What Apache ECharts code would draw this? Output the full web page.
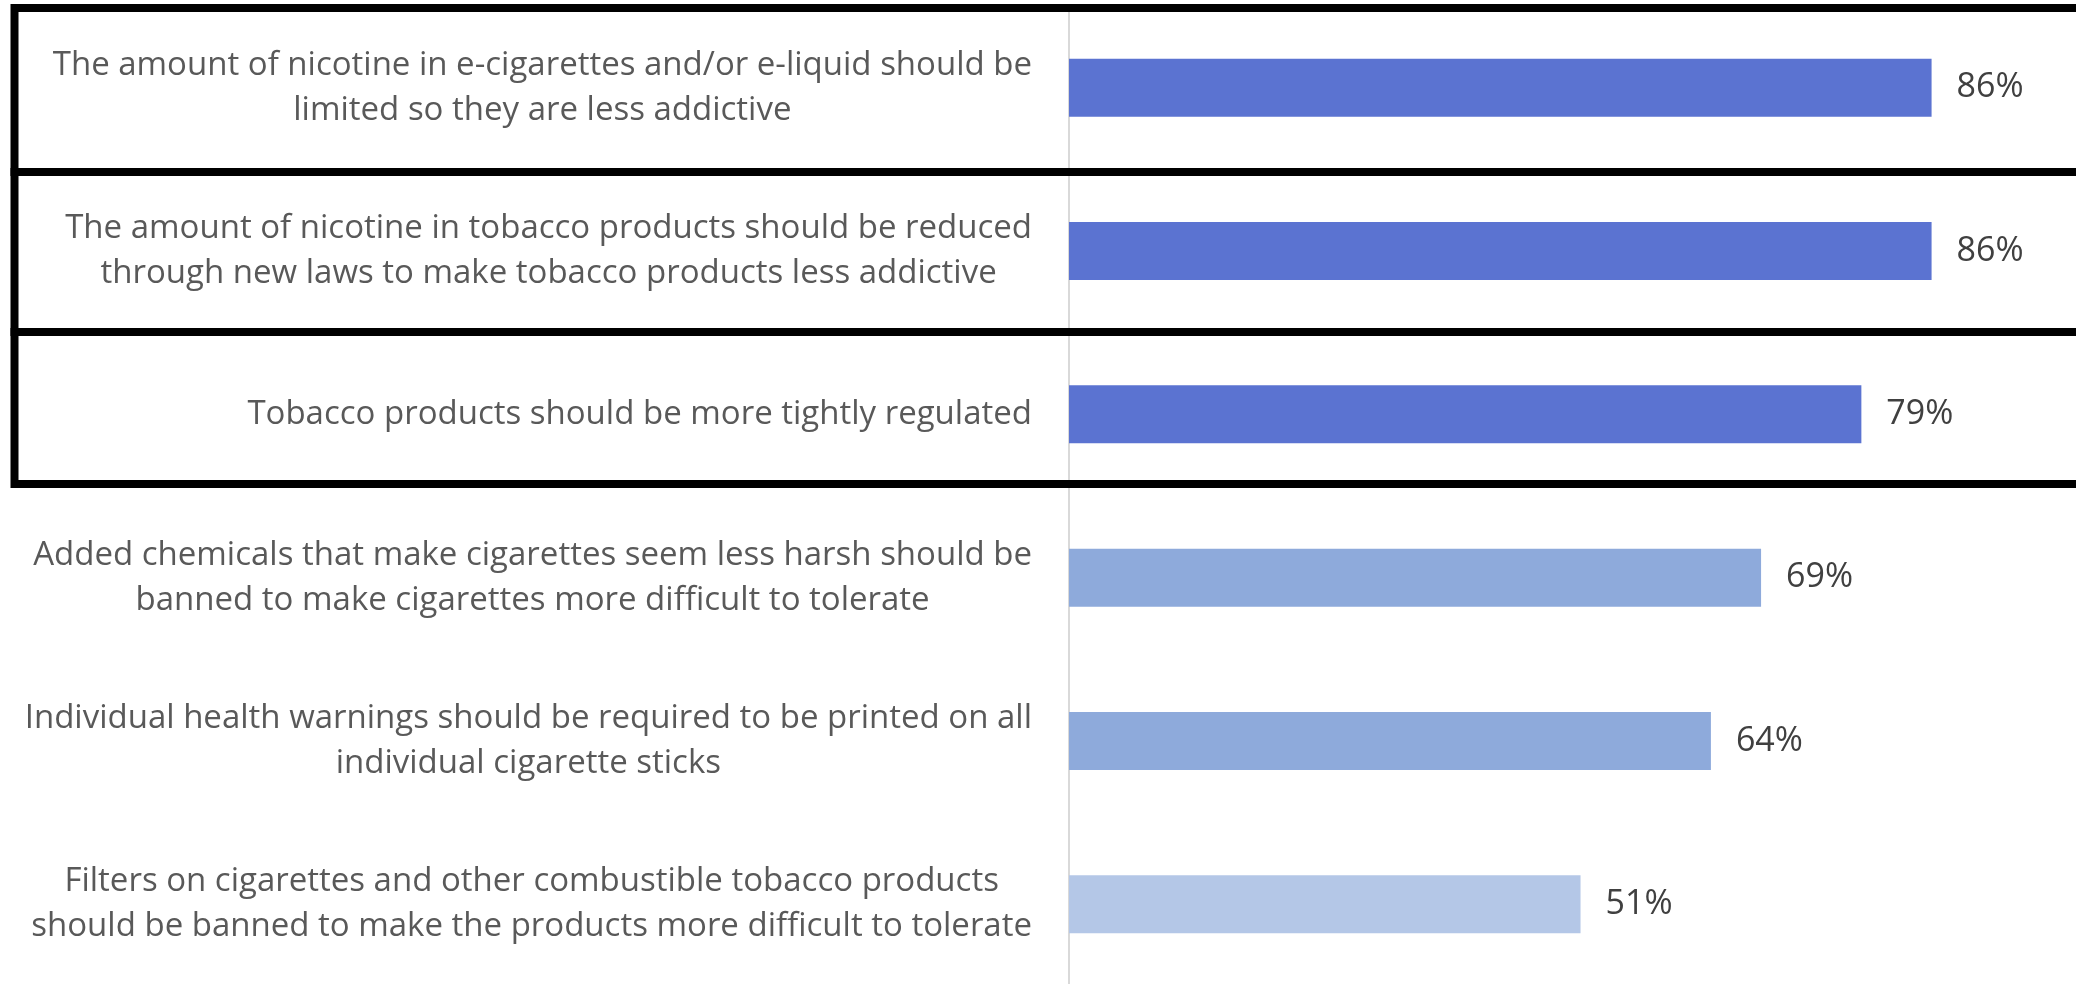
<!DOCTYPE html>
<html><head><meta charset="utf-8">
<script src="https://cdn.jsdelivr.net/npm/echarts@6/dist/echarts.min.js"></script>
<style>html,body{margin:0;padding:0;background:#fff}#c{width:2076px;height:984px}</style>
</head><body><div id="c"></div>
<script>
const categories = [
  "The amount of nicotine in e-cigarettes and/or e-liquid should be\nlimited so they are less addictive",
  "The amount of nicotine in tobacco products should be reduced\nthrough new laws to make tobacco products less addictive",
  "Tobacco products should be more tightly regulated",
  "Added chemicals that make cigarettes seem less harsh should be\nbanned to make cigarettes more difficult to tolerate",
  "Individual health warnings should be required to be printed on all\nindividual cigarette sticks",
  "Filters on cigarettes and other combustible tobacco products\nshould be banned to make the products more difficult to tolerate"
];
const values = [86, 86, 79, 69, 64, 51];
const valueTicks = [0, 100];

const barColors = ['#5B73D1', '#5B73D1', '#5B73D1', '#8EAADB', '#8EAADB', '#B4C7E7'];
const LABEL_FONT = "'Open Sans', sans-serif";
const VALUE_FONT = "'Open Sans', sans-serif";

const chart = echarts.init(document.getElementById('c'), null, {renderer: 'canvas'});

const boxRows = [[8, 172], [172, 332], [332, 484]];

chart.setOption({
  animation: false,
  backgroundColor: '#ffffff',
  grid: {left: 1069, top: 6, width: 1003, height: 980, containLabel: false, outerBoundsMode: 'none'},
  xAxis: {
    type: 'value', min: valueTicks[0], max: valueTicks[1],
    show: false, splitLine: {show: false}
  },
  yAxis: {
    type: 'category', inverse: true, data: categories,
    axisLine: {show: true, lineStyle: {color: '#d9d9d9', width: 2}},
    axisTick: {show: false},
    splitLine: {show: false},
    axisLabel: {
      margin: 37,
      align: 'right',
      hideOverlap: false,
      formatter: function (v) {
        return v.split('\n').map(function (s) { return '{c|' + s + '}'; }).join('\n');
      },
      rich: {
        c: {align: 'center', fontSize: 33, lineHeight: 45, color: '#595959', fontFamily: LABEL_FONT}
      }
    }
  },
  series: [{
    type: 'bar',
    barWidth: 58,
    data: values.map(function (v, i) { return {value: v, itemStyle: {color: barColors[i]}}; }),
    label: {
      show: true, position: 'right', distance: 25,
      formatter: '{c}%', fontSize: 34, color: '#404040', fontFamily: VALUE_FONT
    }
  }],
  graphic: boxRows.map(function (r) {
    return {
      type: 'rect', z: 100,
      shape: {x: 14.5, y: r[0], width: 2200, height: r[1] - r[0]},
      style: {fill: 'none', stroke: '#000000', lineWidth: 8}
    };
  })
});
</script></body></html>
